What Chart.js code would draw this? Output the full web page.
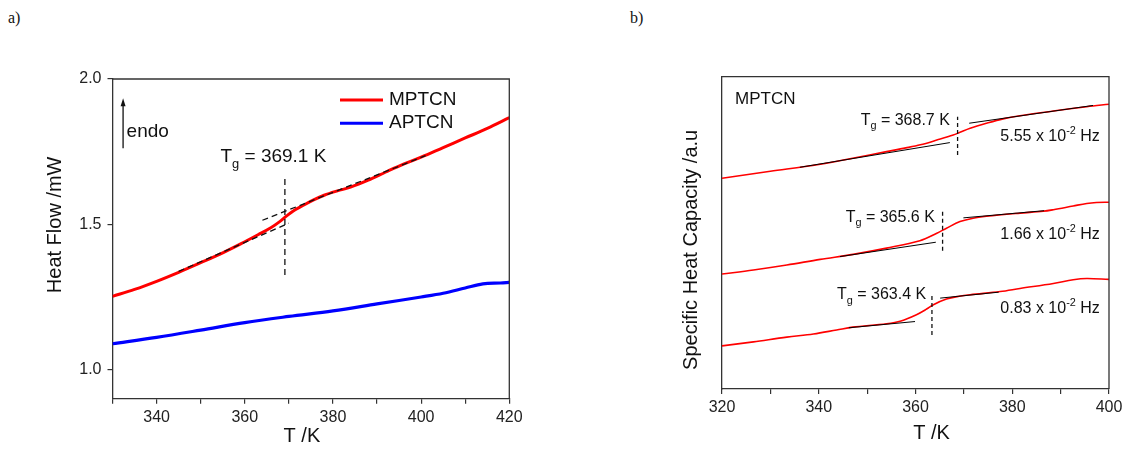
<!DOCTYPE html>
<html>
<head>
<meta charset="utf-8">
<script src="https://cdn.jsdelivr.net/npm/chart.js@4.4.0/dist/chart.umd.min.js"></script>
<style>
body { margin: 0; background: #fff; }
#wrap { position: relative; width: 1123px; height: 450px; }
#wrap canvas { position: absolute; left: 0; top: 0; }
.lab { position: absolute; font-family: "Liberation Serif", "Times New Roman", serif; font-size: 16px; color: #111; }
</style>
</head>
<body>
<div id="wrap">
  <div class="lab" style="left:8px;top:9px">a)</div>
  <div class="lab" style="left:630px;top:9px">b)</div>
  <canvas id="hf" width="1123" height="450"></canvas>
  <canvas id="cp" width="1123" height="450"></canvas>
</div>
<script>
const fam = '"Liberation Sans", Arial, sans-serif';
Chart.defaults.font.family = fam;

// ---- a) DSC heat flow ----
const mptcnT  = [330, 335, 340, 345, 350, 355, 360, 363, 366, 368, 369.5, 371, 373, 375.5, 378, 381, 384, 388, 392, 396, 400, 405, 410, 415, 420];
const mptcnHF = [1.252, 1.276, 1.304, 1.335, 1.368, 1.402, 1.440, 1.464, 1.489, 1.510, 1.529, 1.546, 1.563, 1.583, 1.600, 1.615, 1.628, 1.652, 1.680, 1.707, 1.731, 1.764, 1.797, 1.830, 1.867];
const aptcnT  = [330, 340, 350, 360, 370, 380, 390, 400, 405, 410, 414, 418, 420];
const aptcnHF = [1.089, 1.111, 1.136, 1.162, 1.183, 1.202, 1.226, 1.250, 1.263, 1.281, 1.295, 1.298, 1.300];
const hfLowTanT = [345, 370];
const hfLowTanV = [1.338, 1.504];
const hfUpTanT  = [364, 401];
const hfUpTanV  = [1.514, 1.736];
const tgHF = 369.1;
const tgHFSpan = [1.326, 1.670];
const hfLabelsX = [340, 360, 380, 400, 420];
const hfTicksY  = [1.0, 1.5, 2.0];

// ---- b) specific heat capacity at three frequencies ----
const cpT_555 = [320, 330, 340, 347, 354, 358, 361, 364.4, 367.8, 369.2, 371.3, 374.7, 378.1, 381.6, 388.5, 395.4, 400];
const cp_555  = [67.5, 69.7, 71.9, 73.9, 76.0, 77.2, 78.2, 79.7, 81.3, 82.2, 83.5, 85.1, 86.5, 87.5, 89.0, 90.4, 91.2];
const cpT_166 = [320, 326.5, 333.4, 340.3, 347.1, 354, 360.9, 364.4, 366.4, 369.2, 371.9, 374.7, 381.6, 386.4, 388.5, 392.6, 395.4, 397.4, 400];
const cp_166  = [36.8, 38.1, 39.7, 41.5, 43.1, 45.1, 47.5, 49.9, 51.5, 53.6, 54.7, 55.3, 56.3, 56.9, 57.4, 58.6, 59.4, 59.7, 59.8];
const cpT_083 = [320, 326.5, 333.4, 338.9, 343.7, 347, 354, 357, 360.2, 362.3, 363.7, 366.4, 369, 371.3, 377.5, 381.6, 388.5, 392.6, 395.4, 400];
const cp_083  = [13.8, 15.1, 16.6, 17.6, 18.9, 19.8, 20.9, 21.8, 23.8, 25.6, 27.0, 28.8, 29.7, 30.2, 31.2, 32.2, 33.8, 35.0, 35.4, 35.1];
// baseline tangents [T0, T1] / [v0, v1]
const tanLowT = [[336.1, 367.1], [344.4, 364.2], [346.2, 359.9]];
const tanLowV = [[71.0, 78.9], [42.4, 47.0], [19.6, 21.6]];
const tanUpT  = [[371.1, 396.7], [369.9, 386.6], [365.1, 377.2]];
const tanUpV  = [[85.1, 90.8], [54.8, 57.1], [29.1, 31.0]];
const tgCp     = [368.7, 365.6, 363.4];
const tgCpSpan = [[74.9, 87.2], [44.3, 57.1], [17.3, 30.1]];
const freqs    = ['5.55', '1.66', '0.83'];
const cpLabelsX = [320, 340, 360, 380, 400];

const pts = (xs, ys) => xs.map((x, i) => ({x: x, y: ys[i]}));

function richText(ctx, parts, x, y, size, align) {
  const segs = parts.map(p => {
    const fs = p[1] ? size * 0.68 : size;
    ctx.font = fs + 'px ' + fam;
    return {s: p[0], k: p[1], fs: fs, w: ctx.measureText(p[0]).width};
  });
  const total = segs.reduce((a, g) => a + g.w, 0);
  let cx = align === 'right' ? x - total : align === 'center' ? x - total / 2 : x;
  ctx.textAlign = 'left';
  ctx.textBaseline = 'middle';
  segs.forEach(g => {
    ctx.font = g.fs + 'px ' + fam;
    const dy = g.k === 'sub' ? size * 0.38 : g.k === 'sup' ? -size * 0.36 : 0;
    ctx.fillText(g.s, cx, y + dy);
    cx += g.w;
  });
}

function xAxis(min, max, labelled, space) {
  return {
    type: 'linear', min: min, max: max,
    afterBuildTicks: s => { s.ticks = []; for (let v = min; v <= max; v += 10) s.ticks.push({value: v}); },
    ticks: { callback: v => labelled.includes(v) ? String(v) : '', font: {size: 16}, color: '#222', padding: 4, maxRotation: 0, autoSkip: false },
    grid: { drawOnChartArea: false, tickLength: 5, color: '#333', lineWidth: 1.2 },
    border: { color: '#333', width: 1.3 },
    afterFit: s => { s.height = space; s.paddingLeft = 0; s.paddingRight = 0; }
  };
}

// box frame plus free text: axis titles, labels, arrows
function decor(id, draw) {
  return {
    id: id,
    afterDatasetsDraw(chart) {
      const ctx = chart.ctx, a = chart.chartArea;
      ctx.save();
      ctx.strokeStyle = '#333';
      ctx.lineWidth = 1.3;
      ctx.beginPath();
      ctx.moveTo(a.left, a.top); ctx.lineTo(a.right, a.top); ctx.lineTo(a.right, a.bottom);
      ctx.stroke();
      ctx.fillStyle = '#111';
      draw(chart, ctx, a, chart.scales.x, chart.scales.y);
      ctx.restore();
    }
  };
}

function title(ctx, text, x, y, rot) {
  ctx.save();
  ctx.translate(x, y);
  if (rot) ctx.rotate(-Math.PI / 2);
  ctx.font = '20px ' + fam;
  ctx.textAlign = 'center';
  ctx.textBaseline = 'middle';
  ctx.fillText(text, 0, 0);
  ctx.restore();
}

const dash = (xs, ys, d, w) => ({ data: pts(xs, ys), borderColor: '#111', borderWidth: w, borderDash: d, pointRadius: 0, fill: false });
const curve = (xs, ys, color, w) => ({ data: pts(xs, ys), borderColor: color, borderWidth: w, pointRadius: 0, tension: 0.35, fill: false });

// ---------- chart a ----------
const mSet = curve(mptcnT, mptcnHF, '#ff0000', 3);
mSet.label = 'MPTCN';
const aSet = curve(aptcnT, aptcnHF, '#0000ff', 3.2);
aSet.label = 'APTCN';

new Chart(document.getElementById('hf'), {
  type: 'line',
  data: {
    datasets: [
      dash(hfLowTanT, hfLowTanV, [6, 4], 1.3),
      dash(hfUpTanT, hfUpTanV, [6, 4], 1.3),
      dash([tgHF, tgHF], tgHFSpan, [6, 4], 1.3),
      mSet,
      aSet
    ]
  },
  options: {
    responsive: false, animation: false,
    layout: { padding: { top: 79, right: 1123 - 509.3, bottom: 0, left: 0 } },
    plugins: { legend: { display: false }, tooltip: { enabled: false } },
    scales: {
      x: xAxis(330, 420, hfLabelsX, 450 - 398.7),
      y: {
        type: 'linear', min: 0.9, max: 2.0,
        afterBuildTicks: s => { s.ticks = hfTicksY.map(v => ({value: v})); },
        ticks: { callback: v => v.toFixed(1), font: {size: 16}, color: '#222', padding: 6 },
        grid: { drawOnChartArea: false, tickLength: 5, color: '#333', lineWidth: 1.2 },
        border: { color: '#333', width: 1.3 },
        afterFit: s => { s.width = 112.5; }
      }
    }
  },
  plugins: [decor('hfDecor', (chart, ctx, a, x, y) => {
    title(ctx, 'T /K', (a.left + a.right) / 2 - 9, a.bottom + 37.3, false);
    title(ctx, 'Heat Flow /mW', a.left - 57.5, (a.top + a.bottom) / 2 - 14, true);
    richText(ctx, [['T', ''], ['g', 'sub'], [' = ' + tgHF.toFixed(1) + ' K', '']], x.getPixelForValue(366.5), y.getPixelForValue(1.732), 19, 'center');
    // endo arrow
    const ax = x.getPixelForValue(332.4), y0 = y.getPixelForValue(1.762), y1 = y.getPixelForValue(1.934);
    ctx.strokeStyle = '#111'; ctx.lineWidth = 1.3;
    ctx.beginPath(); ctx.moveTo(ax, y0); ctx.lineTo(ax, y1 + 6); ctx.stroke();
    ctx.beginPath(); ctx.moveTo(ax, y1); ctx.lineTo(ax - 2.5, y1 + 8); ctx.lineTo(ax + 2.5, y1 + 8); ctx.closePath(); ctx.fill();
    richText(ctx, [['endo', '']], x.getPixelForValue(333.2), y.getPixelForValue(1.817), 19, 'left');
    // legend
    chart.data.datasets.filter(d => d.label).forEach((d, i) => {
      const ly = a.top + 20.9 + i * 23.3;
      ctx.strokeStyle = d.borderColor; ctx.lineWidth = 3;
      ctx.beginPath(); ctx.moveTo(a.right - 169.3, ly); ctx.lineTo(a.right - 126.3, ly); ctx.stroke();
      richText(ctx, [[d.label, '']], a.right - 120.3, ly, 19, 'left');
    });
  })]
});

// ---------- chart b ----------
const cpSets = [];
for (let i = 0; i < 3; i++) {
  cpSets.push({ data: pts(tanLowT[i], tanLowV[i]), borderColor: '#000', borderWidth: 1, pointRadius: 0, fill: false });
  cpSets.push({ data: pts(tanUpT[i], tanUpV[i]), borderColor: '#000', borderWidth: 1, pointRadius: 0, fill: false });
  cpSets.push(dash([tgCp[i], tgCp[i]], tgCpSpan[i], [4, 3], 1.3));
}
[[cpT_555, cp_555], [cpT_166, cp_166], [cpT_083, cp_083]].forEach(c => {
  cpSets.push(curve(c[0], c[1], '#ff0000', 1.6));
});

const cpTgPos  = [[367.1, 86.1], [364.0, 55.0], [362.2, 30.1]];
const cpFreqY  = [80.8, 49.3, 25.8];

new Chart(document.getElementById('cp'), {
  type: 'line',
  data: { datasets: cpSets },
  options: {
    responsive: false, animation: false,
    layout: { padding: { top: 76.7, right: 1123 - 1109, bottom: 0, left: 0 } },
    plugins: { legend: { display: false }, tooltip: { enabled: false } },
    scales: {
      x: xAxis(320, 400, cpLabelsX, 450 - 389),
      y: {
        type: 'linear', min: 0, max: 100,
        ticks: { display: false },
        grid: { drawOnChartArea: false, drawTicks: false },
        border: { color: '#333', width: 1.3 },
        afterFit: s => { s.width = 722; }
      }
    }
  },
  plugins: [decor('cpDecor', (chart, ctx, a, x, y) => {
    title(ctx, 'T /K', (a.left + a.right) / 2 + 16, a.bottom + 44.3, false);
    title(ctx, 'Specific Heat Capacity /a.u', a.left - 31, (a.top + a.bottom) / 2 + 17, true);
    richText(ctx, [['MPTCN', '']], x.getPixelForValue(322.7), y.getPixelForValue(92.8), 17, 'left');
    for (let i = 0; i < 3; i++) {
      richText(ctx, [['T', ''], ['g', 'sub'], [' = ' + tgCp[i].toFixed(1) + ' K', '']],
        x.getPixelForValue(cpTgPos[i][0]), y.getPixelForValue(cpTgPos[i][1]), 16, 'right');
      richText(ctx, [[freqs[i] + ' x 10', ''], ['-2', 'sup'], [' Hz', '']],
        x.getPixelForValue(398.1), y.getPixelForValue(cpFreqY[i]), 16, 'right');
    }
  })]
});
</script>
</body>
</html>
